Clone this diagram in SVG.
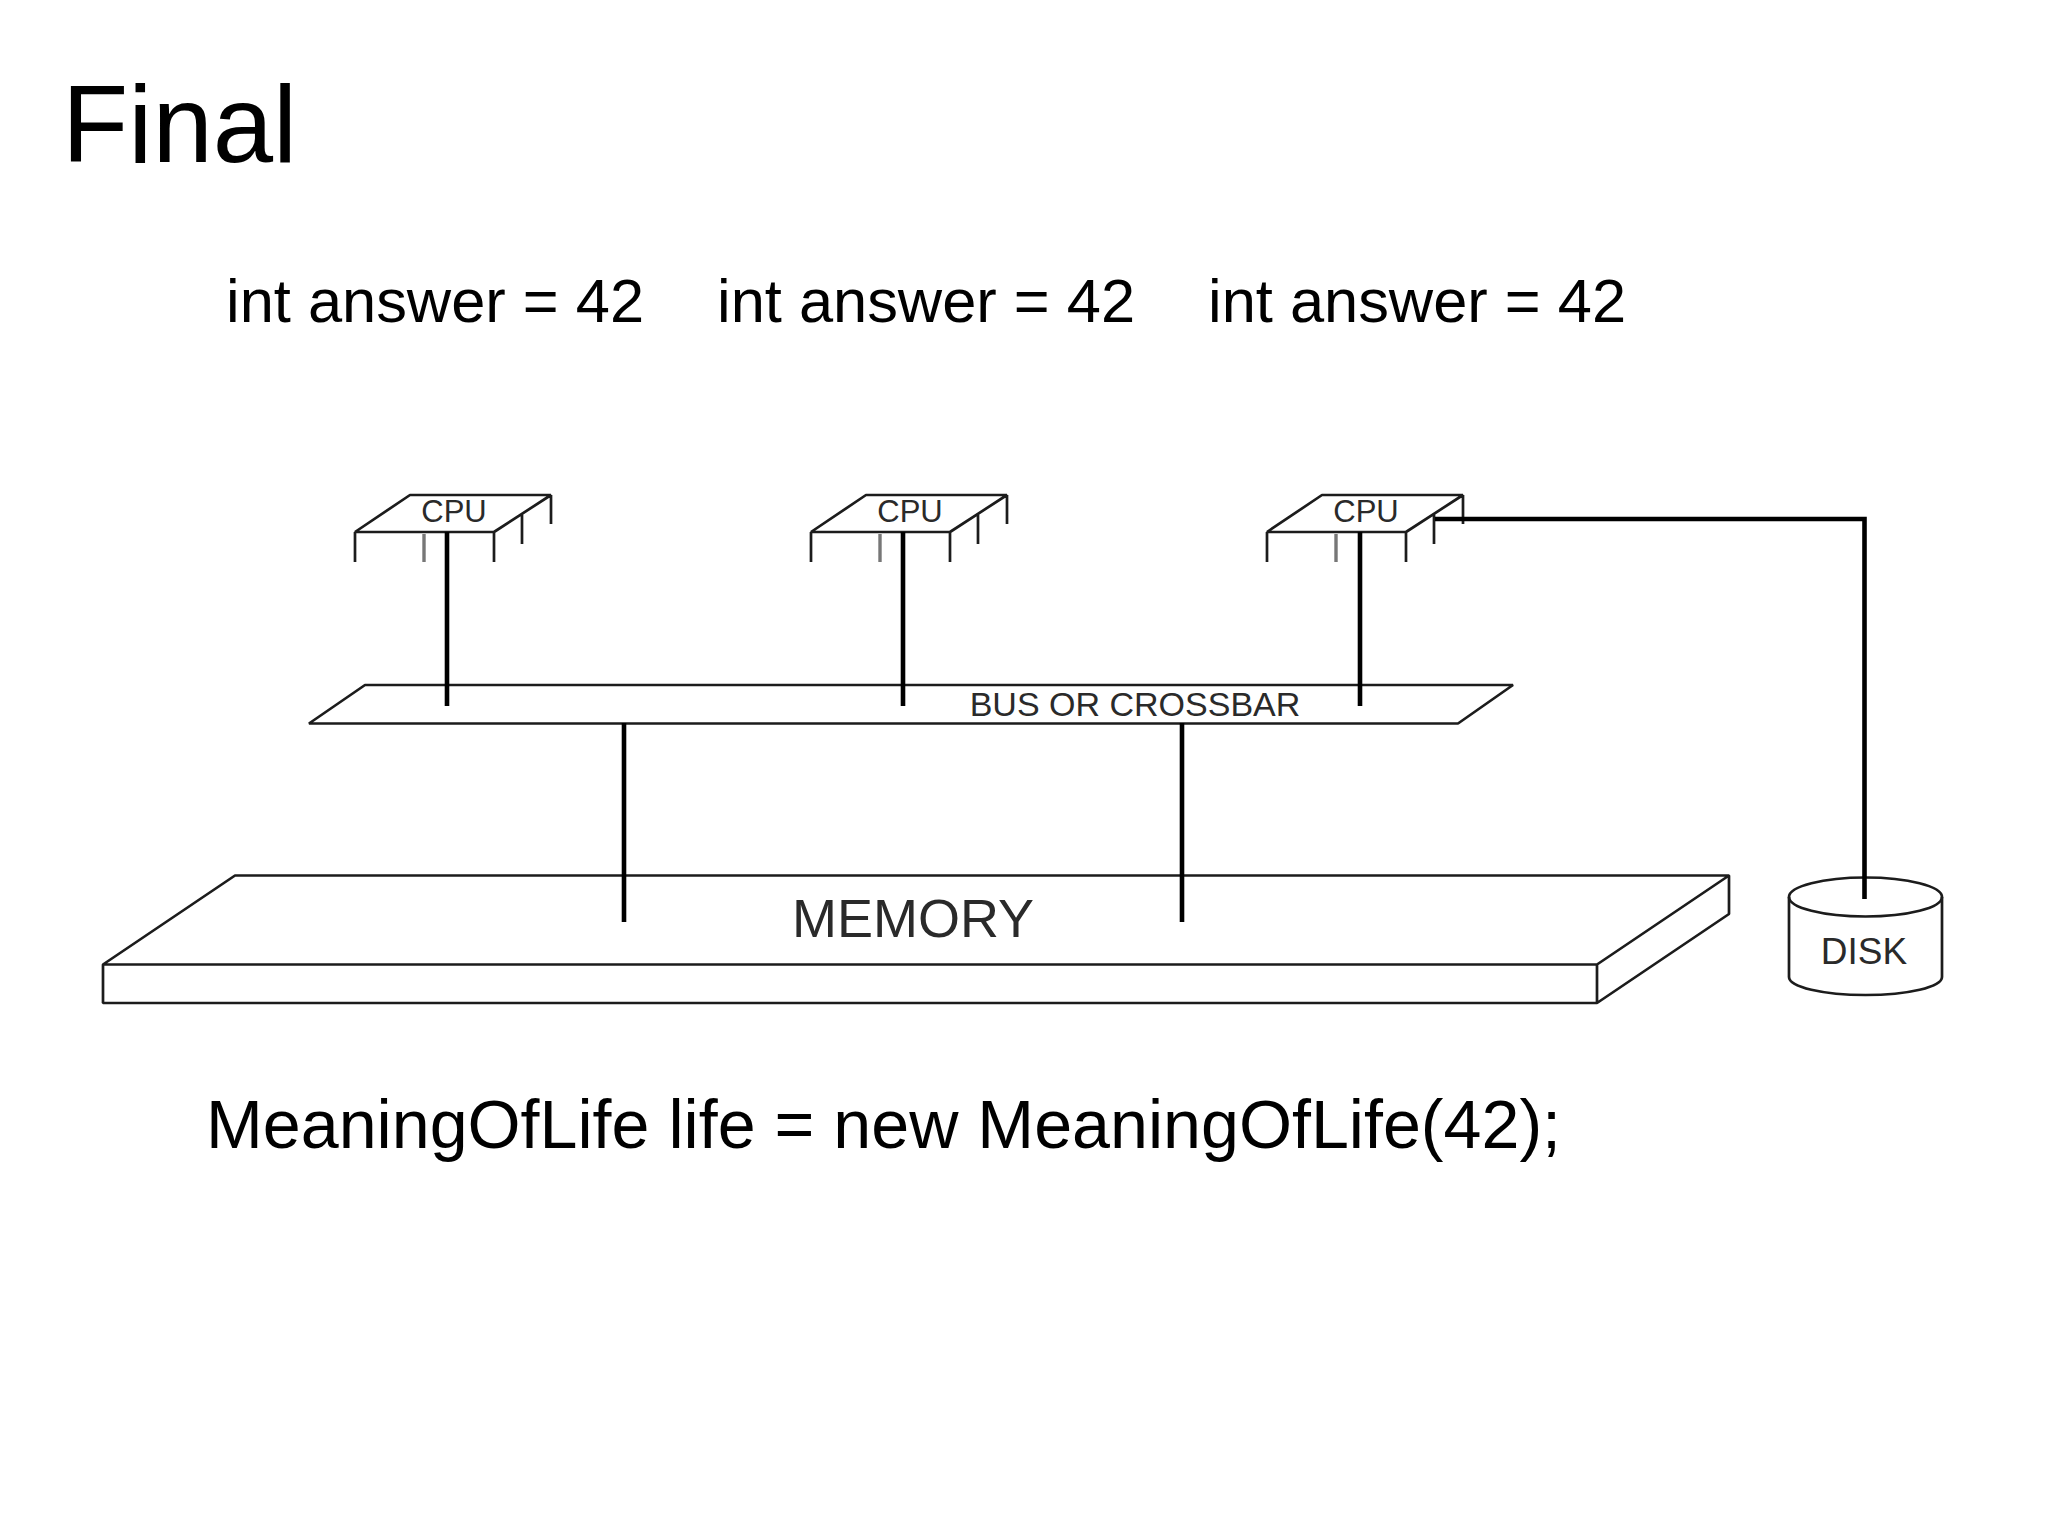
<svg xmlns="http://www.w3.org/2000/svg" xmlns:xlink="http://www.w3.org/1999/xlink" width="2048" height="1536" viewBox="0 0 2048 1536">
<style>
text{font-family:"Liberation Sans",Arial,sans-serif;fill:#000}
.s{fill:none;stroke:#1c1c1c;stroke-width:2.7;stroke-linejoin:bevel}
.c{fill:none;stroke:#000;stroke-width:4.6}
.l{fill:#2a2a2a;text-anchor:middle}
</style>
<defs>
<g id="chip">
<path class="s" d="M355 532L410 495H551L494 532ZM355 532V562M494 532V562M522 514V544M551 495V524"/>
<path d="M424 534V562" fill="none" stroke="#777" stroke-width="3.400"/>
<text class="l" x="454" y="522" font-size="31">CPU</text>
</g>
</defs>
<rect width="2048" height="1536" fill="#fff"/>
<text id="title" x="62" y="162" font-size="108.500">Final</text>
<text id="t1" x="226" y="322" font-size="61.400">int answer = 42</text>
<text id="t2" x="717" y="322" font-size="61.400">int answer = 42</text>
<text id="t3" x="1208" y="322" font-size="61.400">int answer = 42</text>
<text id="t4" x="206" y="1148" font-size="68.200">MeaningOfLife life = new MeaningOfLife(42);</text>
<g id="cpu1"><use href="#chip"/></g>
<g id="cpu2"><use href="#chip" x="456"/></g>
<g id="cpu3"><use href="#chip" x="912"/></g>
<g id="bus"><path class="s" d="M309 723.500L365 685H1513L1458 723.500Z"/><text class="l" x="1135" y="716" font-size="34">BUS OR CROSSBAR</text></g>
<g id="memory"><path class="s" d="M103 964.500L235 875.500H1729V914L1597 1003H103ZM103 964.500H1597L1729 875.500M1597 964.500V1003"/><text class="l" x="913" y="937" font-size="54">MEMORY</text></g>
<g id="disk"><path class="s" d="M1789 897V977C1789 987 1823 995 1865.500 995C1908 995 1942 987 1942 977V897"/><ellipse class="s" cx="1865.500" cy="897" rx="76.500" ry="19.500"/><text class="l" x="1864" y="964" font-size="37">DISK</text></g>
<g id="connectors">
<path class="c" d="M447 532V706M903 532V706M1360 532V706M624 723V922M1182 723V922M1435 519H1864.500V899"/>
</g>
</svg>
